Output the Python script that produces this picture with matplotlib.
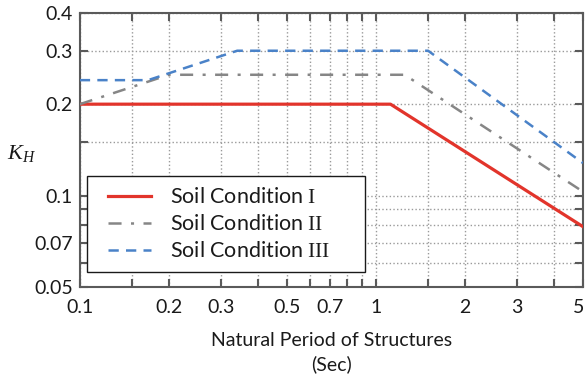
import numpy as np
import matplotlib
matplotlib.use('Agg')
import matplotlib.pyplot as plt
from matplotlib.ticker import FixedLocator, FixedFormatter, NullLocator
from matplotlib.legend_handler import HandlerLine2D
from matplotlib.transforms import ScaledTranslation

plt.rcParams['font.family'] = ['Lato', 'DejaVu Sans']
plt.rcParams['mathtext.fontset'] = 'custom'
plt.rcParams['mathtext.rm'] = 'Liberation Serif'
plt.rcParams['mathtext.it'] = 'Liberation Serif:italic'
plt.rcParams['lines.scale_dashes'] = False

#========================================================
# values
soil1_T = [0.1, 1.12, 5.0]
soil1_K = [0.2, 0.2, 0.079]

soil2_T = [0.1, 0.2, 1.25, 5.0]
soil2_K = [0.2, 0.25, 0.25, 0.103]

soil3_T = [0.1, 0.17, 0.34, 1.5, 5.0]
soil3_K = [0.24, 0.24, 0.3, 0.3, 0.128]

labels = [r'Soil Condition $\mathrm{I}$',
          r'Soil Condition $\mathrm{II}$',
          r'Soil Condition $\mathrm{III}$']

xticks = [0.1, 0.15, 0.2, 0.3, 0.4, 0.5, 0.6, 0.7, 0.8, 0.9, 1, 1.5, 2, 3, 4, 5]
xticklabels = ['0.1', '', '0.2', '0.3', '', '0.5', '', '0.7', '', '', '1', '', '2', '3', '', '5']
yticks = [0.05, 0.06, 0.07, 0.08, 0.09, 0.1, 0.15, 0.2, 0.3, 0.4]
yticklabels = ['0.05', '', '0.07', '', '', '0.1', '', '0.2', '0.3', '0.4']
#========================================================


class ShiftedLine(HandlerLine2D):
    # draw the legend line in the right part of the handle box only
    def create_artists(self, legend, orig_handle, xdescent, ydescent,
                       width, height, fontsize, trans):
        s = 0.45 * fontsize
        return super().create_artists(legend, orig_handle, xdescent - s, ydescent,
                                      width - s, height, fontsize, trans)


fig = plt.figure(figsize=(5.87, 3.77), dpi=100)
ax = fig.add_axes([0.136, 0.239, 0.857, 0.727])

ax.plot(soil1_T, soil1_K, color='#e2342b', lw=2.3, label=labels[0], zorder=3)
ax.plot(soil2_T, soil2_K, color='#868686', lw=1.8, label=labels[1],
        linestyle=(0, (9.4, 6.8, 2.2, 6.8)), zorder=3)
ax.plot(soil3_T, soil3_K, color='#4a82c8', lw=1.8, label=labels[2],
        linestyle=(0, (7.4, 5.2)), zorder=3)

ax.set_xscale('log')
ax.set_yscale('log')
ax.set_xlim(0.1, 5)
ax.set_ylim(0.05, 0.4)

ax.xaxis.set_major_locator(FixedLocator(xticks))
ax.xaxis.set_major_formatter(FixedFormatter(xticklabels))
ax.xaxis.set_minor_locator(NullLocator())
ax.yaxis.set_major_locator(FixedLocator(yticks))
ax.yaxis.set_major_formatter(FixedFormatter(yticklabels))
ax.yaxis.set_minor_locator(NullLocator())

ax.tick_params(direction='in', length=6, width=1.5, color='#5a5a5a',
               top=True, right=True, labelsize=14, labelcolor='#1a1a1a')
ax.tick_params(axis='x', pad=9)
ax.tick_params(axis='y', pad=5)
for s in ax.spines.values():
    s.set_color('#5a5a5a')
    s.set_linewidth(1.5)

# nudge the last x label in a bit, it sits on the figure edge
fig.canvas.draw()
lastlab = ax.get_xticklabels()[-1]
lastlab.set_transform(lastlab.get_transform() + ScaledTranslation(-4 / 100, 0, fig.dpi_scale_trans))

ax.grid(True, linestyle=':', color='#9a9a9a', lw=1.0)

ax.set_xlabel('Natural Period of Structures\n(Sec)', fontsize=14,
              color='#1a1a1a', labelpad=11, linespacing=1.45)
ax.set_ylabel(r'$K_H$', fontsize=16, rotation=0, color='#1a1a1a')
ax.yaxis.set_label_coords(-0.115, 0.45)

leg = ax.legend(loc='upper left', bbox_to_anchor=(0.0139, 0.0, 0.5527, 0.405),
                mode='expand', borderaxespad=0,
                fontsize=15.5, handlelength=2.46, handletextpad=0.88,
                labelspacing=0.33, borderpad=0.52, fancybox=False, framealpha=1,
                handler_map={matplotlib.lines.Line2D: ShiftedLine()})
leg.get_frame().set_edgecolor('#1a1a1a')
leg.get_frame().set_linewidth(1.0)
for t in leg.get_texts():
    t.set_color('#1a1a1a')

fig.savefig('out.png', dpi=100)
